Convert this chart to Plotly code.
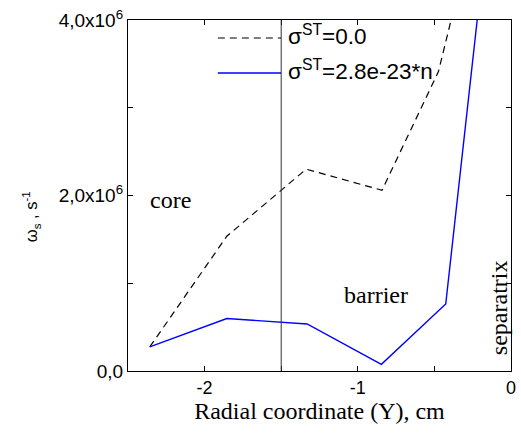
import plotly.graph_objects as go

# Data
x_zero = [-2.358, -1.855, -1.337, -0.842, -0.474, -0.35]
y_zero = [0.274e6, 1.536e6, 2.30e6, 2.06e6, 3.41e6, 4.29e6]
x_st = [-2.358, -1.855, -1.331, -0.846, -0.426, -0.17]
y_st = [0.274e6, 0.598e6, 0.536e6, 0.076e6, 0.764e6, 4.8e6]
names = ["σ<sup>ST</sup>=0.0", "σ<sup>ST</sup>=2.8e-23*n"]
xtick_vals = [-2, -1, 0]
xtick_text = ["-2", "-1", "0"]
ytick_vals = [0, 2e6, 4e6]
ytick_text = ["0,0", "2,0x10<sup>6</sup>", "4,0x10<sup>6</sup>"]
x_barrier_edge = -1.5

W, H = 521, 434
L, R, T, B = 128, 5, 20, 63
pw = W - L - R
ph = H - T - B

def px(xp):
    return (xp - L) / pw

def py(yp):
    return 1 - (yp - T) / ph

fig = go.Figure()
fig.add_trace(go.Scatter(x=x_zero, y=y_zero, mode="lines", name=names[0],
                         line=dict(color="black", width=1.2, dash="7px,5px"),
                         showlegend=False))
fig.add_trace(go.Scatter(x=x_st, y=y_st, mode="lines", name=names[1],
                         line=dict(color="#0000ff", width=1.4),
                         showlegend=False))

shapes = [
    dict(type="line", xref="x", yref="paper", x0=x_barrier_edge, x1=x_barrier_edge,
         y0=0, y1=1, line=dict(color="#333333", width=1)),
    dict(type="line", xref="paper", yref="paper", x0=px(219), x1=px(283), y0=py(38), y1=py(38),
         line=dict(color="black", width=1.2, dash="7px,5px")),
    dict(type="line", xref="paper", yref="paper", x0=px(219), x1=px(283), y0=py(73), y1=py(73),
         line=dict(color="#0000ff", width=1.4)),
]

ann_font = dict(family="Arial, Liberation Sans", size=22.5, color="black")
serif = dict(family="Times New Roman, Liberation Serif", size=24, color="black")
annotations = [
    dict(xref="paper", yref="paper", x=px(288), y=py(35), text=names[0], showarrow=False,
         xanchor="left", yanchor="middle", font=ann_font),
    dict(xref="paper", yref="paper", x=px(288), y=py(70), text=names[1], showarrow=False,
         xanchor="left", yanchor="middle", font=ann_font),
    dict(xref="paper", yref="paper", x=px(148), y=py(200), text="core", showarrow=False,
         xanchor="left", yanchor="middle", font=serif),
    dict(xref="paper", yref="paper", x=px(345), y=py(295), text="barrier", showarrow=False,
         xanchor="left", yanchor="middle", font=serif),
    dict(xref="paper", yref="paper", x=px(504), y=py(308), text="separatrix", showarrow=False,
         textangle=-90, xanchor="center", yanchor="middle", font=serif),
    dict(xref="paper", yref="paper", x=px(30), y=py(217),
         text="ω<sub>s</sub> , s<sup>-1</sup>", showarrow=False, textangle=-90,
         xanchor="center", yanchor="middle",
         font=dict(family="Arial, Liberation Sans", size=16.5, color="black")),
]

fig.update_layout(
    width=W, height=H,
    margin=dict(l=L, r=R, t=T, b=B),
    paper_bgcolor="white", plot_bgcolor="white",
    shapes=shapes, annotations=annotations,
    showlegend=False,
)
axis_common = dict(showgrid=False, zeroline=False, showline=True, linecolor="black",
                   linewidth=1.2, mirror="allticks", ticks="inside", ticklen=5,
                   tickcolor="black", tickwidth=1, ticklabeloverflow="allow")
fig.update_xaxes(range=[-2.5, 0], tickvals=xtick_vals, ticktext=xtick_text,
                 minor=dict(dtick=0.5, tick0=-2.5, ticks="inside", ticklen=5, tickcolor="black"),
                 tickfont=dict(family="Arial, Liberation Sans", size=18, color="black"),
                 title=dict(text="Radial coordinate (Y), cm", standoff=5,
                            font=dict(family="Times New Roman, Liberation Serif", size=24, color="black")),
                 **axis_common)
fig.update_yaxes(range=[0, 4e6], tickvals=ytick_vals, ticktext=ytick_text,
                 minor=dict(dtick=1e6, tick0=0, ticks="inside", ticklen=5, tickcolor="black"),
                 tickfont=dict(family="Arial, Liberation Sans", size=19, color="black"),
                 **axis_common)

fig.write_html("out.html")
